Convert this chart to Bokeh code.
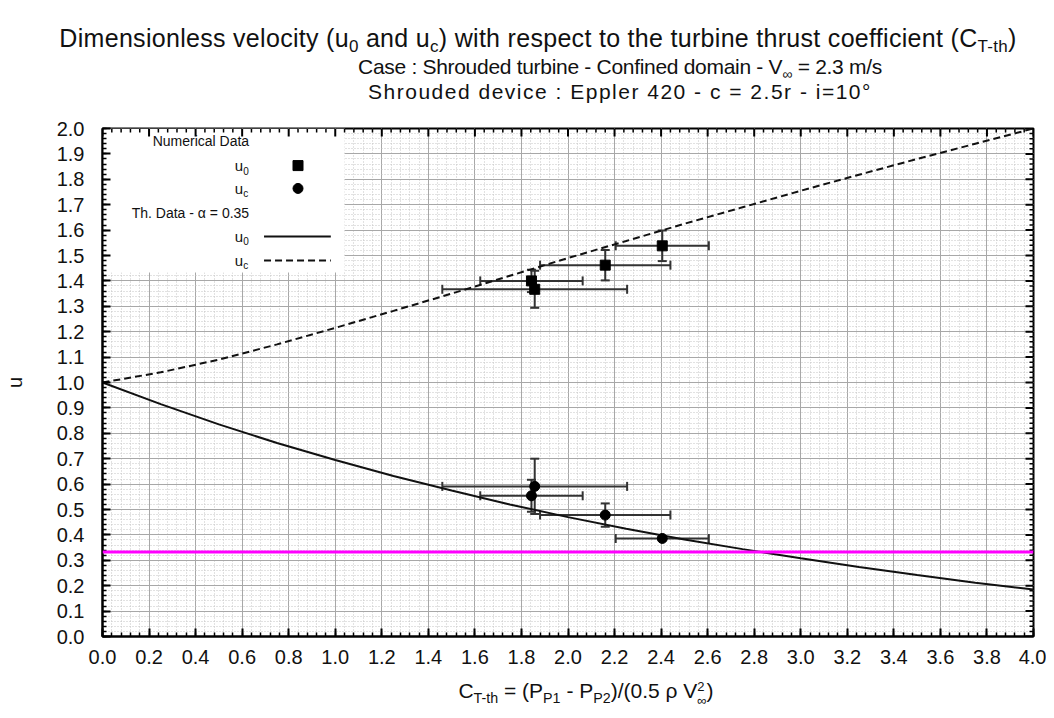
import numpy as np
from bokeh.plotting import figure
from bokeh.models import (Range1d, SingleIntervalTicker, Whisker, ColumnDataSource,
                          Span, BoxAnnotation, Label, TeeHead, Div, PrintfTickFormatter)
from bokeh.layouts import column
from bokeh.embed import file_html
from bokeh.resources import INLINE

# ---------------- data ----------------
# numerical data: thrust coefficient, its error, and the two velocities
ct_num = [1.843, 1.857, 2.160, 2.405]
ct_err = [0.220, 0.397, 0.280, 0.200]
u0_num = [1.400, 1.367, 1.462, 1.538]
u0_err = [0.044, 0.073, 0.060, 0.060]
uc_num = [0.554, 0.591, 0.478, 0.386]
uc_err = [0.063, 0.109, 0.046, 0.006]

# theoretical data (alpha = 0.35)
ct_th = [0.0, 0.25, 0.5, 0.75, 1.0, 1.25, 1.5, 1.75, 2.0,
         2.25, 2.5, 2.75, 3.0, 3.25, 3.5, 3.75, 4.0]
th_u0 = [1.000, 0.915, 0.835, 0.762, 0.695, 0.632, 0.575, 0.520, 0.470,
         0.424, 0.382, 0.344, 0.308, 0.274, 0.242, 0.212, 0.185]          # solid
th_uc = [1.000, 1.040, 1.090, 1.150, 1.215, 1.282, 1.350, 1.420, 1.490,
         1.557, 1.625, 1.690, 1.755, 1.818, 1.880, 1.940, 2.000]          # dashed
ref_level = 0.333                                                         # magenta line

X_MAX, Y_MAX = 4.0, 2.0
x_ticks_interval = 0.2
y_ticks_interval = 0.1
N_MINOR = 5

FONT = "'Liberation Sans', Arial, Helvetica, sans-serif"
INK = "#111111"
ERR = "#333333"

# ---------------- figure ----------------
FRAME_W, FRAME_H = 933, 508
p = figure(width=1046, height=568, x_range=Range1d(0, X_MAX), y_range=Range1d(0, Y_MAX),
           output_backend="svg", toolbar_location=None,
           min_border_left=100, min_border_right=13, min_border_top=20, min_border_bottom=40,
           background_fill_color="white", border_fill_color="white",
           outline_line_color="black", outline_line_width=2)
p.margin = 0

xt = SingleIntervalTicker(interval=x_ticks_interval, num_minor_ticks=N_MINOR)
yt = SingleIntervalTicker(interval=y_ticks_interval, num_minor_ticks=N_MINOR)


def style_axis(ax, ticker):
    ax.ticker = ticker
    ax.axis_line_color = "black"
    ax.axis_line_width = 2
    ax.major_tick_in = 8
    ax.major_tick_out = 0
    ax.minor_tick_in = 4
    ax.minor_tick_out = 0
    ax.major_tick_line_color = "black"
    ax.minor_tick_line_color = "black"
    ax.major_tick_line_width = 2
    ax.minor_tick_line_width = 1.5
    ax.formatter = PrintfTickFormatter(format="%.1f")
    ax.major_label_text_font = FONT
    ax.major_label_text_color = INK
    ax.major_label_text_font_size = "20px"


style_axis(p.xaxis[0], xt)
style_axis(p.yaxis[0], yt)
p.xaxis[0].major_label_standoff = 13
p.yaxis[0].major_label_standoff = 18
p.yaxis[0].axis_label = "u"
p.yaxis[0].axis_label_text_font = FONT
p.yaxis[0].axis_label_text_font_size = "20px"
p.yaxis[0].axis_label_text_font_style = "normal"
p.yaxis[0].axis_label_text_color = INK
p.yaxis[0].axis_label_standoff = 28

# inward ticks on the top and right frame edges (same tick positions as the axes)
px_x = X_MAX / FRAME_W
px_y = Y_MAX / FRAME_H
x_major = np.round(np.arange(0, X_MAX + 1e-9, x_ticks_interval), 6)
y_major = np.round(np.arange(0, Y_MAX + 1e-9, y_ticks_interval), 6)
x_all = np.round(np.arange(0, X_MAX + 1e-9, x_ticks_interval / N_MINOR), 6)
y_all = np.round(np.arange(0, Y_MAX + 1e-9, y_ticks_interval / N_MINOR), 6)
x_minor = np.array([v for v in x_all if not np.any(np.isclose(v, x_major))])
y_minor = np.array([v for v in y_all if not np.any(np.isclose(v, y_major))])
for xs, length, lw in ((x_major, 8, 2), (x_minor, 4, 1.5)):
    p.segment(x0=xs, y0=np.full(len(xs), Y_MAX), x1=xs, y1=np.full(len(xs), Y_MAX - length * px_y),
              line_color="black", line_width=lw)
for ys, length, lw in ((y_major, 8, 2), (y_minor, 4, 1.5)):
    p.segment(x0=np.full(len(ys), X_MAX), y0=ys, x1=np.full(len(ys), X_MAX - length * px_x), y1=ys,
              line_color="black", line_width=lw)

# grids
for g, t in ((p.xgrid[0], xt), (p.ygrid[0], yt)):
    g.ticker = t
    g.grid_line_color = "#a8a8a8"
    g.grid_line_width = 1
    g.minor_grid_line_color = "#c4c4c4"
    g.minor_grid_line_width = 1
    g.minor_grid_line_dash = "1 2"

# ---------------- theoretical curves ----------------
p.line(ct_th, th_u0, line_color=INK, line_width=2)
p.line(ct_th, th_uc, line_color=INK, line_width=2, line_dash="7 4")

# ---------------- error bars ----------------
src = ColumnDataSource(dict(
    ct=ct_num,
    ct_lo=[c - e for c, e in zip(ct_num, ct_err)],
    ct_hi=[c + e for c, e in zip(ct_num, ct_err)],
    u0=u0_num,
    u0_lo=[u - e for u, e in zip(u0_num, u0_err)],
    u0_hi=[u + e for u, e in zip(u0_num, u0_err)],
    uc=uc_num,
    uc_lo=[u - e for u, e in zip(uc_num, uc_err)],
    uc_hi=[u + e for u, e in zip(uc_num, uc_err)],
))


def head():
    return TeeHead(size=9, line_width=2, line_color=ERR)


for base in ("u0", "uc"):
    p.add_layout(Whisker(source=src, base=base, lower="ct_lo", upper="ct_hi", dimension="width",
                         line_color=ERR, line_width=2, upper_head=head(), lower_head=head()))
for lo, hi in (("u0_lo", "u0_hi"), ("uc_lo", "uc_hi")):
    p.add_layout(Whisker(source=src, base="ct", lower=lo, upper=hi, dimension="height",
                         line_color=ERR, line_width=2, upper_head=head(), lower_head=head()))

# ---------------- numerical markers ----------------
p.scatter("ct", "u0", source=src, marker="square", size=10, color="black")
p.scatter("ct", "uc", source=src, marker="circle", size=10, color="black")

# magenta reference level
p.add_layout(Span(location=ref_level, dimension="width", line_color="#ff00ff", line_width=3))

# ---------------- legend (texts right-aligned, sample glyph on the right) ----------------
LEG_BOX = dict(left=0.0, right=1.04, bottom=1.433, top=2.0)
LEG_TEXT_X = 0.63          # right edge of legend texts
LEG_MARK_X = 0.84          # marker samples
LEG_LINE_X = [0.694, 0.981]
LEG_ROWS = [1.949, 1.854, 1.764, 1.669, 1.575, 1.480]

p.add_layout(BoxAnnotation(level="underlay", fill_color="white", fill_alpha=1.0, line_color=None,
                           **LEG_BOX))


def leg_text(y, text, size="14px"):
    p.add_layout(Label(x=LEG_TEXT_X, y=y, text=text, text_align="right", text_baseline="middle",
                       text_font=FONT, text_font_size=size, text_color=INK))


def leg_u(y, sub):
    p.add_layout(Label(x=LEG_TEXT_X, y=y, x_offset=-6, text="u", text_align="right",
                       text_baseline="middle", text_font=FONT, text_font_size="15px",
                       text_color=INK))
    p.add_layout(Label(x=LEG_TEXT_X, y=y, x_offset=-6, y_offset=-5, text=sub, text_align="left",
                       text_baseline="middle", text_font=FONT, text_font_size="10px",
                       text_color=INK))


leg_text(LEG_ROWS[0], "Numerical Data")
leg_u(LEG_ROWS[1], "0")
leg_u(LEG_ROWS[2], "c")
leg_text(LEG_ROWS[3], "Th. Data - \u03b1 = 0.35")
leg_u(LEG_ROWS[4], "0")
leg_u(LEG_ROWS[5], "c")
p.scatter([LEG_MARK_X], [LEG_ROWS[1]], marker="square", size=10, color="black")
p.scatter([LEG_MARK_X], [LEG_ROWS[2]], marker="circle", size=10, color="black")
p.line(LEG_LINE_X, [LEG_ROWS[4]] * 2, line_color=INK, line_width=2)
p.line(LEG_LINE_X, [LEG_ROWS[5]] * 2, line_color=INK, line_width=2, line_dash="7 4")

# ---------------- title and x-axis label as HTML (for sub/superscripts) ----------------
SUB = '<sub style="font-size:68%;vertical-align:-0.32em;line-height:0">'
PAGE_W = 1046


def line_div(top, size, center, html, spacing="0px"):
    w = 1400
    return (f'<div style="position:absolute;top:{top}px;left:{center - w // 2}px;width:{w}px;'
            f'text-align:center;font-size:{size}px;line-height:{int(size * 1.2)}px;'
            f'letter-spacing:{spacing};white-space:nowrap">{html}</div>')


t1 = (f"Dimensionless velocity (u{SUB}0</sub> and u{SUB}c</sub>) with respect to the turbine "
      f"thrust coefficient (C{SUB}T-th</sub>)")
t2 = f"Case : Shrouded turbine - Confined domain - V{SUB}\u221e</sub> = 2.3 m/s"
t3 = "Shrouded device : Eppler 420 - c = 2.5r - i=10\u00b0"

title_html = (f'<div style="position:relative;width:{PAGE_W}px;height:108px;overflow:hidden;'
              f'font-family:{FONT};color:{INK}">'
              + line_div(23, 25, 538, t1, "0.3px")
              + line_div(54, 21, 620, t2, "-0.3px")
              + line_div(79, 21, 620, t3, "1.5px")
              + '</div>')
title_div = Div(text=title_html, width=PAGE_W, height=108, margin=0)

xlab = ("C" + SUB + "T-th</sub> = (P" + SUB + "P1</sub> - P" + SUB + "P2</sub>)/(0.5 \u03c1 V"
        '<span style="display:inline-block;vertical-align:-0.5em;font-size:62%;line-height:1.0;'
        'text-align:left">2<br>\u221e</span>)')
xlab_html = (f'<div style="position:relative;width:{PAGE_W}px;height:34px;overflow:hidden;'
             f'font-family:{FONT};color:{INK}">'
             + line_div(2, 21, 586, xlab) + '</div>')
xlab_div = Div(text=xlab_html, width=PAGE_W, height=34, margin=0)

layout = column(title_div, p, xlab_div, spacing=0, margin=0)

open("out.html", "w").write(file_html(layout, INLINE))
